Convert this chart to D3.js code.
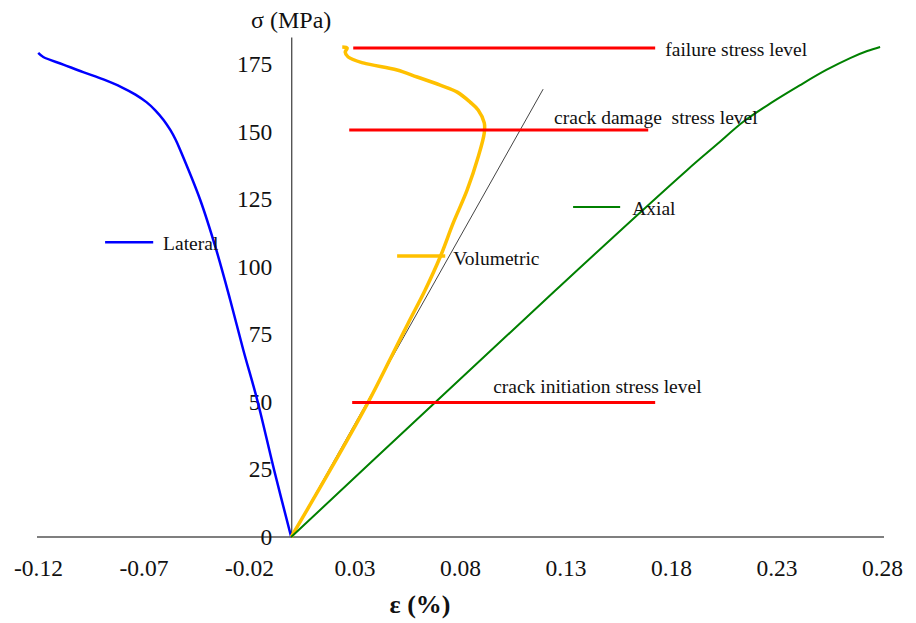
<!DOCTYPE html>
<html>
<head>
<meta charset="utf-8">
<script src="https://cdn.jsdelivr.net/npm/d3@7"></script>
<style>
  body { margin: 0; background: #fff; }
  svg text { font-family: "Liberation Serif", "Times New Roman", serif; fill: #111; }
</style>
</head>
<body>
<svg id="chart"></svg>
<script>
(function() {

// strain (%) and stress (MPa)
const lateral = [
  [0, 0], [-0.0081, 24.8], [-0.0161, 50.7], [-0.0227, 69.2], [-0.0289, 87.7],
  [-0.0355, 106.2], [-0.0431, 124.7], [-0.0526, 143.2], [-0.0547, 146.9],
  [-0.0573, 150.6], [-0.0605, 154.3], [-0.0643, 157.8], [-0.0686, 160.9],
  [-0.0738, 163.7], [-0.0803, 166.4], [-0.0890, 169.3], [-0.0986, 172.0],
  [-0.1080, 174.8], [-0.1175, 177.6], [-0.1199, 179.1]
];
const volumetric = [
  [0, 0], [0.0185, 24.8], [0.0365, 49.9], [0.0474, 66.6], [0.0555, 79.2],
  [0.0635, 91.4], [0.0706, 103.6], [0.0768, 116.2], [0.0834, 128.4],
  [0.0886, 140.6], [0.0915, 149.5], [0.0915, 153.2], [0.0886, 158.0],
  [0.0848, 160.9], [0.0787, 164.6], [0.0706, 167.2], [0.0597, 170.2],
  [0.0502, 172.8], [0.0341, 175.4], [0.0270, 177.6], [0.0256, 179.4],
  [0.0265, 180.9], [0.0242, 181.3]
];
const axial = [
  [0, 0], [0.0659, 48.1], [0.1275, 92.9], [0.1877, 135.8], [0.2014, 145.0],
  [0.2147, 153.9], [0.2280, 160.9], [0.2412, 167.2], [0.2536, 172.8],
  [0.2649, 177.2], [0.2730, 179.8], [0.2791, 181.3]
];
const tangent = [[0, 0], [0.1194, 165.7]];

// stress thresholds
const thresholds = [
  { name: "failure stress level", x0: 0.0294, x1: 0.1725, y: 180.9, tx: 0.1773, ty: 178.0 },
  { name: "crack damage  stress level", x0: 0.0275, x1: 0.1692, y: 150.6, tx: 0.1246, ty: 152.8 },
  { name: "crack initiation stress level", x0: 0.0289, x1: 0.1725, y: 49.8, tx: 0.0957, ty: 53.3 }
];

// series tags drawn next to the curves
const seriesTags = [
  { name: "Lateral", data: lateral, color: "#0000ff", width: 2.5, kx0: -0.0882, kx1: -0.0654, ky: 109.1, tx: -0.0607, ty: 106.2 },
  { name: "Volumetric", data: volumetric, color: "#ffc000", width: 3.5, kx0: 0.0502, kx1: 0.0730, ky: 104.0, tx: 0.0768, ty: 100.6 },
  { name: "Axial", data: axial, color: "#008000", width: 2, kx0: 0.1336, kx1: 0.1559, ky: 122.1, tx: 0.1616, ty: 119.1 }
];

const xTicks = [-0.12, -0.07, -0.02, 0.03, 0.08, 0.13, 0.18, 0.23, 0.28];
const yTicks = [0, 25, 50, 75, 100, 125, 150, 175];

const W = 916, H = 623;
const serif = '"Liberation Serif", "Times New Roman", serif';
const svg = d3.select("#chart").attr("width", W).attr("height", H);

const x = d3.scaleLinear().domain([-0.12, 0.28]).range([38, 882]);
const y = d3.scaleLinear().domain([0, 185]).range([537, 37]);

const axisColor = "#555";

// x axis along stress = 0
const gx = svg.append("g")
    .attr("transform", `translate(0,${y(0)})`)
    .call(d3.axisBottom(x).tickValues(xTicks).tickSize(0).tickPadding(22)
      .tickFormat(d => d3.format(".2f")(d).replace("\u2212", "-")));
gx.select(".domain").attr("stroke", axisColor).attr("stroke-width", 1.4).attr("d", `M${x(-0.12) - 1},0H${x(0.28) + 2}`);
gx.selectAll("text").style("font-family", serif).style("font-size", "23.5px").attr("fill", "#111");

// y axis along strain = 0
const gy = svg.append("g")
    .attr("transform", `translate(${x(0)},0)`)
    .call(d3.axisLeft(y).tickValues(yTicks).tickSize(0).tickPadding(19));
gy.select(".domain").attr("stroke", axisColor).attr("stroke-width", 1.4);
gy.selectAll("text").style("font-family", serif).style("font-size", "23.5px").attr("fill", "#111");

// thin tangent line
svg.append("path")
    .datum(tangent)
    .attr("fill", "none")
    .attr("stroke", "#444")
    .attr("stroke-width", 1)
    .attr("d", d3.line().x(d => x(d[0])).y(d => y(d[1])));

const line = d3.line().x(d => x(d[0])).y(d => y(d[1])).curve(d3.curveCatmullRom.alpha(0.5));

// stress curves
seriesTags.forEach(s => {
  svg.append("path")
      .datum(s.data)
      .attr("fill", "none")
      .attr("stroke", s.color)
      .attr("stroke-width", s.width)
      .attr("stroke-linejoin", "round")
      .attr("d", line);

  svg.append("line")
      .attr("x1", x(s.kx0)).attr("x2", x(s.kx1))
      .attr("y1", y(s.ky)).attr("y2", y(s.ky))
      .attr("stroke", s.color)
      .attr("stroke-width", s.width);

  svg.append("text")
      .attr("x", x(s.tx))
      .attr("y", y(s.ty))
      .style("font-size", "19.5px")
      .text(s.name);
});

// threshold lines
thresholds.forEach(t => {
  svg.append("line")
      .attr("x1", x(t.x0)).attr("x2", x(t.x1))
      .attr("y1", y(t.y)).attr("y2", y(t.y))
      .attr("stroke", "#ff0000")
      .attr("stroke-width", 3);

  svg.append("text")
      .attr("x", x(t.tx))
      .attr("y", y(t.ty))
      .style("font-size", "19.5px")
      .style("white-space", "pre")
      .text(t.name);
});

// axis titles
svg.append("text")
    .attr("x", x(0))
    .attr("y", 28)
    .attr("text-anchor", "middle")
    .style("font-size", "24px")
    .text("σ (MPa)");

svg.append("text")
    .attr("x", 420)
    .attr("y", 613)
    .attr("text-anchor", "middle")
    .style("font-size", "26px")
    .style("font-weight", "bold")
    .text("ε (%)");

})();
</script>
</body>
</html>
